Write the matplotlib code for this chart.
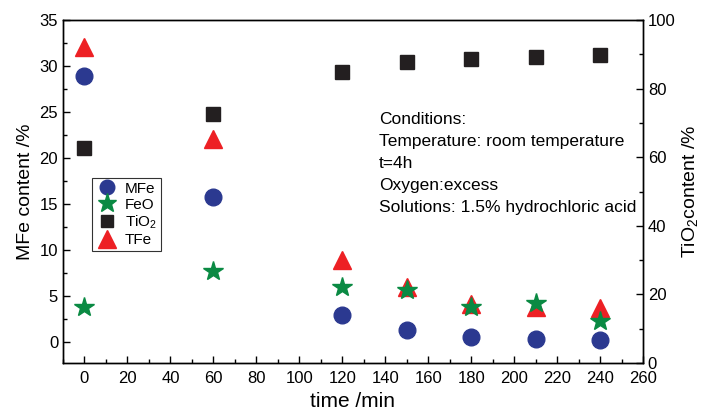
import matplotlib
matplotlib.use("Agg")
import matplotlib.pyplot as plt
from matplotlib.ticker import MultipleLocator
from matplotlib.lines import Line2D

plt.rcParams["font.family"] = ["Liberation Sans", "DejaVu Sans"]
plt.rcParams["mathtext.fontset"] = "custom"
plt.rcParams["mathtext.rm"] = "Liberation Sans"

time_min = [0, 60, 120, 150, 180, 210, 240]
mfe = [28.9, 15.7, 2.9, 1.3, 0.5, 0.3, 0.2]
feo = [3.8, 7.7, 6.0, 5.6, 3.8, 4.2, 2.3]
tfe = [32.1, 22.1, 8.9, 6.0, 4.1, 3.8, 3.7]
tio2 = [62.8, 72.6, 84.8, 87.7, 88.6, 89.3, 89.8]

conditions = ["Conditions:",
              "Temperature: room temperature",
              "t=4h",
              "Oxygen:excess",
              "Solutions: 1.5% hydrochloric acid"]

C_MFE = "#2b3990"
C_FEO = "#0a8a43"
C_TIO = "#231f20"
C_TFE = "#ed2024"

fig = plt.figure(figsize=(7.03, 4.17), dpi=100)
ax = fig.add_axes([63 / 703, 1 - 363 / 417, 580 / 703, 343 / 417])
ax2 = ax.twinx()

ax.plot(time_min, mfe, "o", color=C_MFE, ms=12, ls="none", zorder=3)
ax.plot(time_min, tfe, "^", color=C_TFE, ms=13, ls="none", zorder=3)
ax.plot(time_min, feo, "*", color=C_FEO, ms=15, ls="none", zorder=4)
ax2.plot(time_min, tio2, "s", color=C_TIO, ms=10.5, ls="none")

ax.set_xlim(-10, 260)
ax.set_ylim(-2.3, 35)
ax2.set_ylim(0, 100)

ax.xaxis.set_major_locator(MultipleLocator(20))
ax.xaxis.set_minor_locator(MultipleLocator(10))
ax.yaxis.set_major_locator(MultipleLocator(5))
ax.yaxis.set_minor_locator(MultipleLocator(2.5))
ax2.yaxis.set_major_locator(MultipleLocator(20))
ax2.yaxis.set_minor_locator(MultipleLocator(10))

for a in (ax, ax2):
    a.tick_params(which="both", direction="in", labelsize=12, width=1)
    a.tick_params(which="major", length=5)
    a.tick_params(which="minor", length=3)
    for s in a.spines.values():
        s.set_linewidth(1)
ax.tick_params(axis="x", which="both", top=False, pad=6)
ax.tick_params(axis="y", which="both", right=False)

ax.set_xlabel("time /min", fontsize=15, labelpad=4)
ax.set_ylabel("MFe content /%", fontsize=14)
ax2.set_ylabel("TiO$_2$content /%", fontsize=14)

handles = [
    Line2D([], [], marker="o", color=C_MFE, ls="none", ms=10.5),
    Line2D([], [], marker="*", color=C_FEO, ls="none", ms=14),
    Line2D([], [], marker="s", color=C_TIO, ls="none", ms=9),
    Line2D([], [], marker="^", color=C_TFE, ls="none", ms=12.5),
]
leg = ax.legend(handles, ["MFe", "FeO", "TiO$_2$", "TFe"], loc="upper left",
                bbox_to_anchor=(29 / 580, (363 - 178) / 343), fontsize=11,
                frameon=True, fancybox=False, borderpad=0.25, labelspacing=0.12,
                handletextpad=0.4, handlelength=1.5, borderaxespad=0)
leg.get_frame().set_edgecolor("black")
leg.get_frame().set_linewidth(0.8)

for i, line in enumerate(conditions):
    ax.text(137, 24.2 - i * 2.39, line, fontsize=12.5, va="center", ha="left")

fig.savefig("out.png", dpi=100)
